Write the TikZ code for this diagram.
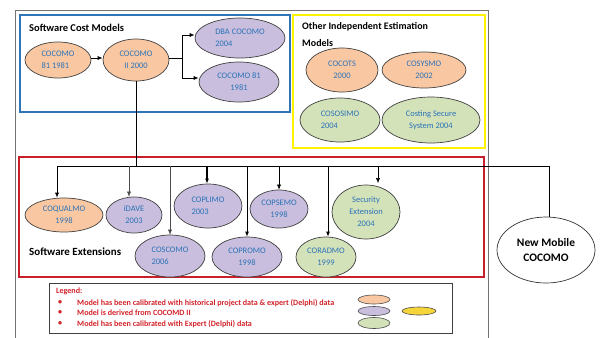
\documentclass[tikz,border=0pt]{standalone}
\usepackage{fontspec}
\setmainfont{Carlito}
\usetikzlibrary{shapes.geometric,arrows.meta}
\definecolor{orfill}{HTML}{F9C8A2}
\definecolor{pufill}{HTML}{C9BEDD}
\definecolor{grfill}{HTML}{D4E2BA}
\definecolor{yefill}{HTML}{F5D53A}
\definecolor{txtblue}{HTML}{2A72B8}
\definecolor{boxblue}{HTML}{2E75B6}
\definecolor{boxyellow}{HTML}{FFF200}
\definecolor{boxred}{HTML}{C8202A}
\definecolor{legred}{HTML}{D2232A}
\begin{document}
\begin{tikzpicture}[x=1bp,y=-1bp,
  ell/.style={ellipse, draw=black!75, line width=0.7bp, inner sep=0pt,
    text=txtblue, font=\fontsize{8.5}{12}\selectfont},
  orng/.style={ell, fill=orfill},
  purp/.style={ell, fill=pufill},
  gren/.style={ell, fill=grfill},
  conn/.style={line width=0.7bp, black},
  arr/.style={conn, -{Latex[length=5bp,width=4bp]}},
  title/.style={font=\fontsize{11}{17}\selectfont\bfseries, text=black, inner sep=0pt},
  legtext/.style={font=\fontsize{8.1}{9}\selectfont\bfseries, text=legred, inner sep=0pt, anchor=west},
  legell/.style={ellipse, draw=black!70, line width=0.6bp, inner sep=0pt, minimum width=32bp, minimum height=9bp}
]
\useasboundingbox (0,0) rectangle (616,337);
% outer frame
\draw[black!55, line width=0.8bp] (15,340) -- (15,10) -- (488,10) -- (488,340);
% group boxes
\draw[boxblue, line width=1.6bp] (20,15) rectangle (290,112);
\draw[boxyellow, line width=1.8bp] (293,15) rectangle (485,148);
\draw[boxred, line width=1.6bp] (19,157) rectangle (484,277);

% titles
\node[title, anchor=west, font=\fontsize{10.5}{17}\selectfont\bfseries] (tcost) at (29,28) {Software Cost Models};
\node[title, anchor=north west, align=left, font=\fontsize{10}{17}\selectfont\bfseries] (tother) at (302,22.5) {Other Independent Estimation\\Models};
\node[title, anchor=west] (text) at (29,252) {Software Extensions};

% software cost models
\node[orng, minimum width=66bp, minimum height=36bp, align=left] (c81) at (58,60) {COCOMO\\81 1981};
\node[orng, minimum width=66bp, minimum height=42bp, align=center] (c2) at (136,60) {COCOMO\\II 2000};
\node[purp, minimum width=90bp, minimum height=40bp, align=left] (dba) at (240,38) {DBA COCOMO\\2004};
\node[purp, minimum width=80bp, minimum height=40bp, align=center] (c81b) at (239,82) {COCOMO 81\\1981};

\draw[arr] (c81.east |- 0,58) -- (c2.west |- 0,58);
\coordinate (split) at (182,58);
\draw[conn] (c2.east |- split) -- (split);
\draw[arr] (split) |- (dba.west |- 0,35);
\draw[arr] (split) |- (c81b.west |- 0,78);

% other independent models
\node[orng, minimum width=72bp, minimum height=44bp, align=center] (cocots) at (342,70) {COCOTS\\2000};
\node[orng, minimum width=84bp, minimum height=36bp, align=center] (cosysmo) at (424,70) {COSYSMO\\2002};
\node[gren, minimum width=80bp, minimum height=44bp, align=left] (cososimo) at (340,120) {COSOSIMO\\2004};
\node[gren, minimum width=98bp, minimum height=46bp, align=center] (costing) at (431,120) {Costing Secure\\System 2004};

% software extensions
\node[orng, minimum width=78bp, minimum height=34bp, align=center] (coqualmo) at (64,215) {COQUALMO\\1998};
\node[purp, minimum width=56bp, minimum height=36bp, align=center] (idave) at (134,215) {iDAVE\\2003};
\node[purp, minimum width=68bp, minimum height=44bp, align=left] (coplimo) at (208,206) {COPLIMO\\2003};
\node[purp, minimum width=58bp, minimum height=38bp, align=center] (copsemo) at (279,209) {COPSEMO\\1998};
\node[purp, minimum width=70bp, minimum height=42bp, align=left] (coscomo) at (170,256) {COSCOMO\\2006};
\node[purp, minimum width=70bp, minimum height=40bp, align=center] (copromo) at (247,257) {COPROMO\\1998};
\node[gren, minimum width=60bp, minimum height=40bp, align=center] (coradmo) at (326,257) {CORADMO\\1999};
\node[gren, minimum width=68bp, minimum height=54bp, align=center] (secext) at (366,212) {Security\\Extension\\2004};

\node[ellipse, draw=black!80, line width=0.7bp, fill=white, inner sep=0pt, minimum width=98bp, minimum height=66bp,
  align=center, font=\fontsize{11.5}{15}\selectfont\bfseries] (newmob) at (546,250) {New Mobile\\COCOMO};

% bus
\coordinate (busL) at (57,166);
\coordinate (busR) at (549,166);
\coordinate (busC) at (136,166);
\draw[conn] (c2.south) -- (busC);
\draw[conn] (busL) -- (busR);
\draw[conn] (busR) -- (busR |- newmob.north);

\coordinate (t1) at (57,166);
\coordinate (t2) at (129,166);
\coordinate (t3) at (170,166);
\coordinate (t4) at (207,166);
\coordinate (t5) at (247,166);
\coordinate (t6) at (279,166);
\coordinate (t7) at (328,166);
\coordinate (t8) at (378,166);
\draw[arr] (t1) -- (t1 |- coqualmo.north);
\draw[arr, line width=0.4bp, black!70] (t2) -- (t2 |- idave.north);
\draw[arr, line width=0.4bp, black!70] (t3) -- (t3 |- coscomo.north);
\draw[arr, line width=1.3bp] (t4) -- (t4 |- coplimo.north);
\draw[arr, line width=0.9bp] (t5) -- (t5 |- copromo.north);
\draw[arr, line width=0.5bp] (t6) -- (t6 |- copsemo.north);
\draw[arr, line width=0.9bp] (t7) -- (t7 |- coradmo.north);
\draw[arr, line width=0.5bp] (t8) -- ([yshift=1.5bp]t8 |- secext.north);

% legend
\draw[black!75, line width=0.7bp] (49,283) rectangle (452,333);
\node[legtext] (leg) at (56,291.5) {Legend:};
\node[legtext] (b1) at (58,303) {•};
\node[legtext] (b2) at (58,313) {•};
\node[legtext] (b3) at (58,324) {•};
\node[legtext] (l1) at (77,303) {Model has been calibrated with historical project data \& expert (Delphi) data};
\node[legtext] (l2) at (77,313) {Model is derived from COCOMD II};
\node[legtext] (l3) at (77,324) {Model has been calibrated with Expert (Delphi) data};
\node[legell, fill=orfill] (lo) at (374,299.5) {};
\node[legell, fill=pufill] (lp) at (374,311) {};
\node[legell, fill=grfill, minimum height=11bp] (lg) at (374,323) {};
\node[legell, fill=yefill, minimum width=34bp, minimum height=8bp] (ly) at (419,311) {};
\end{tikzpicture}
\end{document}
